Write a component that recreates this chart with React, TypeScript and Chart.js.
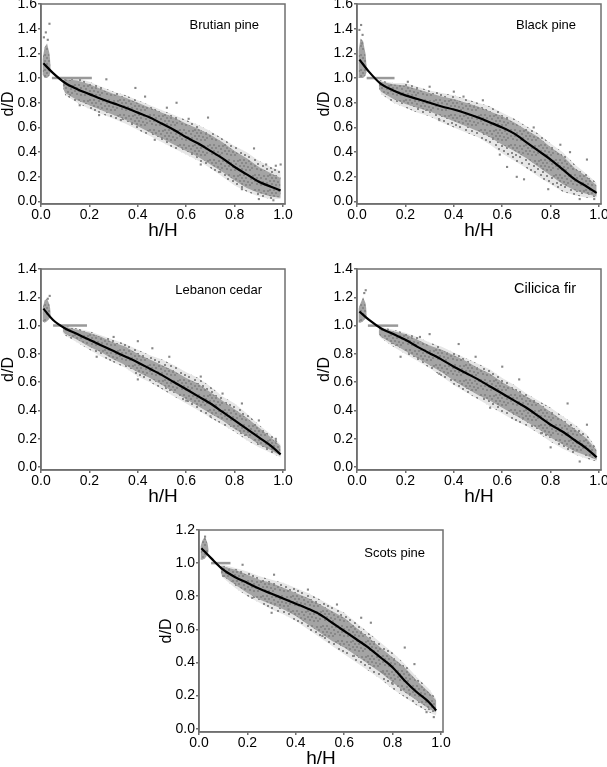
import React, { useEffect, useRef } from "react";
import { Chart, registerables } from "chart.js";
Chart.register(...registerables);

// ---------- tick labels ----------
const X_TICKS = [0, 0.2, 0.4, 0.6, 0.8, 1.0];
const Y_TICKS_16 = [0, 0.2, 0.4, 0.6, 0.8, 1.0, 1.2, 1.4, 1.6];
const Y_TICKS_14 = [0, 0.2, 0.4, 0.6, 0.8, 1.0, 1.2, 1.4];
const Y_TICKS_12 = [0, 0.1, 0.2, 0.3, 0.4, 0.5, 0.6, 0.7, 0.8, 0.9, 1.0, 1.1, 1.2];

// ---------- shared x grids ----------
const CURVE_X = [0.01, 0.05, 0.1, 0.15, 0.2, 0.25, 0.3, 0.35, 0.4, 0.45, 0.5, 0.55, 0.6, 0.65, 0.7, 0.75, 0.8, 0.85, 0.9, 0.95, 0.99];
const SCOTS_CURVE_X = [0.01, 0.05, 0.1, 0.15, 0.2, 0.25, 0.3, 0.35, 0.4, 0.45, 0.5, 0.55, 0.6, 0.65, 0.7, 0.75, 0.8, 0.85, 0.9, 0.95, 0.98];
const BAND_X = [0.09, 0.1, 0.15, 0.2, 0.25, 0.3, 0.35, 0.4, 0.45, 0.5, 0.55, 0.6, 0.65, 0.7, 0.75, 0.8, 0.85, 0.9, 0.95, 0.99];
const SCOTS_BAND_X = [0.09, 0.1, 0.15, 0.2, 0.25, 0.3, 0.35, 0.4, 0.45, 0.5, 0.55, 0.6, 0.65, 0.7, 0.75, 0.8, 0.85, 0.9, 0.95, 0.98];
const SPIKE_X = [0.006, 0.015, 0.025, 0.035, 0.04];

// ---------- Brutian pine ----------
const BRUTIAN_CURVE = [1.12, 1.04, 0.96, 0.91, 0.87, 0.83, 0.795, 0.76, 0.72, 0.68, 0.63, 0.58, 0.52, 0.47, 0.41, 0.35, 0.28, 0.22, 0.16, 0.12, 0.09];
const BRUTIAN_OUTER_LO = [0.93, 0.86, 0.8, 0.75, 0.71, 0.67, 0.63, 0.58, 0.53, 0.48, 0.43, 0.38, 0.33, 0.27, 0.2, 0.13, 0.08, 0.04, 0.02, 0.02];
const BRUTIAN_OUTER_HI = [0.99, 1.0, 1.0, 0.97, 0.93, 0.89, 0.86, 0.82, 0.78, 0.74, 0.7, 0.66, 0.62, 0.57, 0.51, 0.45, 0.4, 0.33, 0.28, 0.25];
const BRUTIAN_INNER_LO = [0.94, 0.88, 0.82, 0.78, 0.74, 0.7, 0.66, 0.61, 0.56, 0.51, 0.46, 0.41, 0.36, 0.3, 0.24, 0.17, 0.11, 0.07, 0.04, 0.03];
const BRUTIAN_INNER_HI = [0.98, 0.99, 0.98, 0.95, 0.91, 0.87, 0.84, 0.8, 0.76, 0.72, 0.68, 0.63, 0.59, 0.54, 0.48, 0.41, 0.35, 0.28, 0.23, 0.19];
const BRUTIAN_SPIKE_LO = [1.03, 1.0, 1.0, 1.02, 1.05];
const BRUTIAN_SPIKE_HI = [1.15, 1.25, 1.28, 1.2, 1.1];
const BRUTIAN_HLINE = [0.045, 0.21];
const BRUTIAN_OUT_X = [0.035, 0.02, 0.012, 0.028, 0.27, 0.39, 0.56, 0.69, 0.61, 0.88, 0.93, 0.97, 0.24, 0.33, 0.47, 0.74, 0.83, 0.99, 0.16, 0.52, 0.66, 0.9, 0.96, 0.43];
const BRUTIAN_OUT_Y = [1.44, 1.37, 1.33, 1.31, 0.99, 0.92, 0.8, 0.68, 0.67, 0.43, 0.3, 0.29, 0.7, 0.66, 0.5, 0.24, 0.1, 0.3, 0.78, 0.76, 0.3, 0.02, 0.01, 0.85];

// ---------- Black pine ----------
const BLACK_CURVE = [1.15, 1.05, 0.95, 0.9, 0.86, 0.83, 0.8, 0.77, 0.745, 0.715, 0.68, 0.64, 0.6, 0.55, 0.48, 0.41, 0.34, 0.26, 0.18, 0.12, 0.07];
const BLACK_OUTER_LO = [0.92, 0.87, 0.8, 0.76, 0.72, 0.69, 0.64, 0.6, 0.56, 0.52, 0.46, 0.39, 0.33, 0.27, 0.2, 0.14, 0.08, 0.05, 0.03, 0.03];
const BLACK_OUTER_HI = [0.99, 0.98, 0.96, 0.96, 0.93, 0.9, 0.88, 0.86, 0.83, 0.8, 0.77, 0.72, 0.67, 0.61, 0.55, 0.47, 0.4, 0.3, 0.22, 0.15];
const BLACK_INNER_LO = [0.93, 0.89, 0.83, 0.79, 0.76, 0.73, 0.69, 0.65, 0.61, 0.57, 0.52, 0.46, 0.41, 0.35, 0.28, 0.21, 0.14, 0.09, 0.06, 0.04];
const BLACK_INNER_HI = [0.98, 0.97, 0.95, 0.94, 0.91, 0.88, 0.85, 0.83, 0.8, 0.77, 0.73, 0.69, 0.64, 0.58, 0.52, 0.44, 0.37, 0.27, 0.2, 0.13];
const BLACK_SPIKE_LO = [1.0, 1.0, 1.0, 1.02, 1.05];
const BLACK_SPIKE_HI = [1.22, 1.32, 1.3, 1.2, 1.1];
const BLACK_HLINE = [0.04, 0.155];
const BLACK_OUT_X = [0.017, 0.01, 0.023, 0.02, 0.44, 0.3, 0.62, 0.66, 0.59, 0.73, 0.95, 0.92, 0.34, 0.52, 0.84, 0.98, 0.21, 0.4, 0.69, 0.79, 0.88];
const BLACK_OUT_Y = [1.43, 1.39, 1.35, 1.28, 0.85, 0.93, 0.28, 0.2, 0.38, 0.6, 0.34, 0.02, 0.66, 0.82, 0.46, 0.02, 0.97, 0.89, 0.18, 0.1, 0.4];

// ---------- Lebanon cedar ----------
const CEDAR_CURVE = [1.12, 1.04, 0.98, 0.94, 0.9, 0.86, 0.82, 0.78, 0.74, 0.695, 0.65, 0.6, 0.55, 0.5, 0.45, 0.39, 0.33, 0.27, 0.21, 0.15, 0.09];
const CEDAR_OUTER_LO = [0.95, 0.93, 0.88, 0.83, 0.78, 0.74, 0.7, 0.64, 0.6, 0.55, 0.5, 0.45, 0.4, 0.35, 0.3, 0.25, 0.19, 0.14, 0.1, 0.07];
const CEDAR_OUTER_HI = [0.99, 1.0, 0.98, 0.96, 0.93, 0.9, 0.87, 0.83, 0.79, 0.76, 0.72, 0.67, 0.63, 0.57, 0.5, 0.45, 0.38, 0.3, 0.23, 0.16];
const CEDAR_INNER_LO = [0.96, 0.94, 0.9, 0.85, 0.81, 0.76, 0.72, 0.67, 0.63, 0.58, 0.53, 0.48, 0.43, 0.38, 0.33, 0.27, 0.22, 0.16, 0.12, 0.08];
const CEDAR_INNER_HI = [0.99, 0.99, 0.97, 0.95, 0.92, 0.88, 0.85, 0.8, 0.76, 0.72, 0.68, 0.63, 0.59, 0.53, 0.47, 0.41, 0.35, 0.28, 0.21, 0.15];
const CEDAR_SPIKE_LO = [1.03, 1.02, 1.03, 1.05, 1.07];
const CEDAR_SPIKE_HI = [1.12, 1.18, 1.19, 1.15, 1.1];
const CEDAR_HLINE = [0.05, 0.19];
const CEDAR_OUT_X = [0.036, 0.028, 0.4, 0.46, 0.66, 0.83, 0.23, 0.4, 0.6, 0.75, 0.3, 0.53, 0.7, 0.9, 0.97];
const CEDAR_OUT_Y = [1.21, 1.19, 0.89, 0.84, 0.64, 0.45, 0.78, 0.62, 0.47, 0.52, 0.92, 0.78, 0.36, 0.33, 0.2];

// ---------- Cilicica fir ----------
const FIR_CURVE = [1.1, 1.04, 0.98, 0.94, 0.9, 0.85, 0.805, 0.76, 0.71, 0.665, 0.62, 0.57, 0.52, 0.47, 0.42, 0.36, 0.3, 0.25, 0.19, 0.13, 0.07];
const FIR_OUTER_LO = [0.93, 0.91, 0.85, 0.8, 0.75, 0.7, 0.64, 0.58, 0.53, 0.48, 0.43, 0.38, 0.33, 0.29, 0.24, 0.18, 0.13, 0.09, 0.06, 0.04];
const FIR_OUTER_HI = [1.0, 0.99, 0.97, 0.95, 0.92, 0.88, 0.85, 0.81, 0.77, 0.73, 0.69, 0.63, 0.58, 0.52, 0.47, 0.42, 0.36, 0.3, 0.23, 0.13];
const FIR_INNER_LO = [0.94, 0.92, 0.87, 0.82, 0.77, 0.72, 0.67, 0.61, 0.56, 0.51, 0.47, 0.42, 0.37, 0.32, 0.27, 0.21, 0.16, 0.11, 0.08, 0.05];
const FIR_INNER_HI = [0.99, 0.98, 0.96, 0.94, 0.9, 0.86, 0.83, 0.79, 0.75, 0.7, 0.66, 0.6, 0.55, 0.5, 0.45, 0.39, 0.33, 0.27, 0.2, 0.12];
const FIR_SPIKE_LO = [1.02, 1.02, 1.03, 1.05, 1.07];
const FIR_SPIKE_HI = [1.12, 1.16, 1.2, 1.16, 1.1];
const FIR_HLINE = [0.045, 0.17];
const FIR_OUT_X = [0.036, 0.03, 0.3, 0.42, 0.6, 0.67, 0.87, 0.18, 0.34, 0.55, 0.76, 0.95, 0.26, 0.49, 0.8, 0.92];
const FIR_OUT_Y = [1.25, 1.23, 0.94, 0.87, 0.71, 0.62, 0.45, 0.78, 0.66, 0.42, 0.24, 0.3, 0.92, 0.78, 0.14, 0.04];

// ---------- Scots pine ----------
const SCOTS_CURVE = [1.09, 1.03, 0.96, 0.915, 0.88, 0.845, 0.815, 0.785, 0.755, 0.725, 0.69, 0.64, 0.59, 0.54, 0.49, 0.43, 0.37, 0.29, 0.22, 0.16, 0.11];
const SCOTS_OUTER_LO = [0.93, 0.91, 0.85, 0.8, 0.76, 0.72, 0.69, 0.65, 0.6, 0.55, 0.5, 0.45, 0.4, 0.35, 0.3, 0.24, 0.19, 0.14, 0.1, 0.08];
const SCOTS_OUTER_HI = [0.99, 0.99, 0.97, 0.95, 0.92, 0.9, 0.88, 0.85, 0.82, 0.78, 0.74, 0.7, 0.64, 0.58, 0.52, 0.46, 0.39, 0.31, 0.24, 0.18];
const SCOTS_INNER_LO = [0.94, 0.92, 0.87, 0.82, 0.78, 0.75, 0.72, 0.68, 0.63, 0.58, 0.53, 0.49, 0.44, 0.39, 0.34, 0.28, 0.22, 0.17, 0.12, 0.1];
const SCOTS_INNER_HI = [0.98, 0.98, 0.96, 0.93, 0.9, 0.88, 0.85, 0.82, 0.79, 0.75, 0.71, 0.67, 0.61, 0.55, 0.49, 0.43, 0.37, 0.29, 0.22, 0.17];
const SCOTS_SPIKE_LO = [1.02, 1.02, 1.03, 1.05, 1.07];
const SCOTS_SPIKE_HI = [1.1, 1.14, 1.16, 1.12, 1.08];
const SCOTS_HLINE = [0.05, 0.13];
const SCOTS_OUT_X = [0.025, 0.18, 0.31, 0.67, 0.85, 0.89, 0.3, 0.51, 0.76, 0.94, 0.57, 0.45, 0.71, 0.22, 0.37, 0.64, 0.8, 0.97];
const SCOTS_OUT_Y = [1.16, 0.99, 0.93, 0.67, 0.49, 0.39, 0.7, 0.56, 0.34, 0.1, 0.75, 0.84, 0.64, 0.79, 0.72, 0.44, 0.27, 0.07];

// ---------- layout / style ----------
const YW = 42; // y-axis box width
const XH = 38; // x-axis box height
const PT = 10; // top padding
const PR = 12; // right padding
const FONT = "'Liberation Sans', Arial, Helvetica, sans-serif";
const AXIS_COLOR = "#6f6f6f";
const DOT = "#888888";

type Panel = {
  name: string;
  area: number[]; // left, top, right, bottom (page px)
  yMax: number;
  yTicks: number[];
  curveX: number[];
  curveY: number[];
  bandX: number[];
  outerLo: number[];
  outerHi: number[];
  innerLo: number[];
  innerHi: number[];
  spikeLo: number[];
  spikeHi: number[];
  hline: number[];
  outX: number[];
  outY: number[];
  labelDx: number;
  labelDy: number;
  labelSize: number;
};

const PANELS: Panel[] = [
  { name: "Brutian pine", area: [41, 4, 285, 204], yMax: 1.6, yTicks: Y_TICKS_16, curveX: CURVE_X, curveY: BRUTIAN_CURVE, bandX: BAND_X, outerLo: BRUTIAN_OUTER_LO, outerHi: BRUTIAN_OUTER_HI, innerLo: BRUTIAN_INNER_LO, innerHi: BRUTIAN_INNER_HI, spikeLo: BRUTIAN_SPIKE_LO, spikeHi: BRUTIAN_SPIKE_HI, hline: BRUTIAN_HLINE, outX: BRUTIAN_OUT_X, outY: BRUTIAN_OUT_Y, labelDx: 26, labelDy: 21, labelSize: 13 },
  { name: "Black pine", area: [357, 4, 601, 204], yMax: 1.6, yTicks: Y_TICKS_16, curveX: CURVE_X, curveY: BLACK_CURVE, bandX: BAND_X, outerLo: BLACK_OUTER_LO, outerHi: BLACK_OUTER_HI, innerLo: BLACK_INNER_LO, innerHi: BLACK_INNER_HI, spikeLo: BLACK_SPIKE_LO, spikeHi: BLACK_SPIKE_HI, hline: BLACK_HLINE, outX: BLACK_OUT_X, outY: BLACK_OUT_Y, labelDx: 25, labelDy: 21, labelSize: 13 },
  { name: "Lebanon cedar", area: [41, 269, 285, 470], yMax: 1.4, yTicks: Y_TICKS_14, curveX: CURVE_X, curveY: CEDAR_CURVE, bandX: BAND_X, outerLo: CEDAR_OUTER_LO, outerHi: CEDAR_OUTER_HI, innerLo: CEDAR_INNER_LO, innerHi: CEDAR_INNER_HI, spikeLo: CEDAR_SPIKE_LO, spikeHi: CEDAR_SPIKE_HI, hline: CEDAR_HLINE, outX: CEDAR_OUT_X, outY: CEDAR_OUT_Y, labelDx: 23, labelDy: 21, labelSize: 13 },
  { name: "Cilicica fir", area: [357, 269, 601, 470], yMax: 1.4, yTicks: Y_TICKS_14, curveX: CURVE_X, curveY: FIR_CURVE, bandX: BAND_X, outerLo: FIR_OUTER_LO, outerHi: FIR_OUTER_HI, innerLo: FIR_INNER_LO, innerHi: FIR_INNER_HI, spikeLo: FIR_SPIKE_LO, spikeHi: FIR_SPIKE_HI, hline: FIR_HLINE, outX: FIR_OUT_X, outY: FIR_OUT_Y, labelDx: 25, labelDy: 20, labelSize: 14.5 },
  { name: "Scots pine", area: [199, 530, 443, 732], yMax: 1.2, yTicks: Y_TICKS_12, curveX: SCOTS_CURVE_X, curveY: SCOTS_CURVE, bandX: SCOTS_BAND_X, outerLo: SCOTS_OUTER_LO, outerHi: SCOTS_OUTER_HI, innerLo: SCOTS_INNER_LO, innerHi: SCOTS_INNER_HI, spikeLo: SCOTS_SPIKE_LO, spikeHi: SCOTS_SPIKE_HI, hline: SCOTS_HLINE, outX: SCOTS_OUT_X, outY: SCOTS_OUT_Y, labelDx: 18, labelDy: 23, labelSize: 13 },
];

const pts = (xs: number[], ys: number[]) => xs.map((x, i) => ({ x, y: ys[i] }));
const hidden = { borderColor: "rgba(0,0,0,0)", borderWidth: 0, pointRadius: 0 };

// speckled texture fills (styling only: fixed irregular tiles of small grey dots)
function speckle(size: number, base: string | null, dots: number[][]): CanvasPattern | string {
  const c = document.createElement("canvas");
  c.width = size;
  c.height = size;
  const g = c.getContext("2d");
  if (!g) return base || DOT;
  if (base) {
    g.fillStyle = base;
    g.fillRect(0, 0, size, size);
  }
  g.fillStyle = DOT;
  dots.forEach(([x, y]) => g.fillRect(x, y, 2, 2));
  return g.createPattern(c, "repeat") || DOT;
}

const INNER_TILE = [[0, 0], [4, 0], [9, 1], [2, 3], [6, 3], [11, 4], [0, 6], [4, 6], [8, 7], [2, 9], [6, 10], [10, 10], [12, 8], [13, 1]];
const OUTER_TILE = [[0, 0], [6, 1], [11, 3], [3, 4], [8, 6], [1, 8], [12, 9], [5, 10], [9, 12], [2, 12]];

function PanelChart({ p }: { p: Panel }) {
  const ref = useRef<HTMLCanvasElement>(null);
  const [aL, aT, aR, aB] = p.area;
  const W = aR - aL + YW + PR;
  const H = aB - aT + PT + XH;

  useEffect(() => {
    const innerFill = speckle(15, "#a4a4a4", INNER_TILE);
    const outerFill = speckle(15, "#e6e6e6", OUTER_TILE);

    const framePlugin = {
      id: "frameAndLabel",
      afterDraw(chart: any) {
        const { ctx, chartArea: a } = chart;
        ctx.save();
        ctx.strokeStyle = AXIS_COLOR;
        ctx.lineWidth = 1.5;
        ctx.strokeRect(a.left, a.top, a.right - a.left, a.bottom - a.top);
        ctx.fillStyle = "#000";
        ctx.font = `${p.labelSize}px ${FONT}`;
        ctx.textAlign = "right";
        ctx.textBaseline = "middle";
        ctx.fillText(p.name, a.right - p.labelDx, a.top + p.labelDy);
        ctx.restore();
      },
    };

    const chart = new Chart(ref.current as HTMLCanvasElement, {
      type: "line",
      data: {
        datasets: [
          { data: pts(p.curveX, p.curveY), borderColor: "#000", borderWidth: 2.2, pointRadius: 0, cubicInterpolationMode: "monotone", fill: false },
          { data: pts(p.hline, [1, 1]), borderColor: "#999999", borderWidth: 2.5, pointRadius: 0, fill: false },
          { data: pts(p.outX, p.outY), showLine: false, pointStyle: "rect", pointRadius: 1.5, pointBackgroundColor: DOT, pointBorderWidth: 0, fill: false },
          { data: pts(SPIKE_X, p.spikeLo), ...hidden, fill: false },
          { data: pts(SPIKE_X, p.spikeHi), ...hidden, fill: "-1", backgroundColor: innerFill },
          { data: pts(p.bandX, p.innerLo), ...hidden, fill: false },
          { data: pts(p.bandX, p.innerHi), ...hidden, fill: "-1", backgroundColor: innerFill },
          { data: pts(p.bandX, p.outerLo), ...hidden, fill: false },
          { data: pts(p.bandX, p.outerHi), ...hidden, fill: "-1", backgroundColor: outerFill },
        ] as any,
      },
      options: {
        animation: false,
        responsive: false,
        events: [],
        layout: { padding: { top: PT, right: PR, left: 0, bottom: 0 } },
        plugins: { legend: { display: false }, tooltip: { enabled: false } },
        scales: {
          x: {
            type: "linear",
            min: 0,
            max: 1.008,
            afterFit: (s: any) => { s.height = XH; },
            afterBuildTicks: (s: any) => { s.ticks = X_TICKS.map((v) => ({ value: v })); },
            ticks: { color: "#000", padding: 0, maxRotation: 0, font: { family: FONT, size: 14 }, callback: (v: any) => Number(v).toFixed(1) },
            grid: { drawOnChartArea: false, drawTicks: true, tickLength: 3, color: AXIS_COLOR, lineWidth: 1.5 },
            border: { display: true, color: AXIS_COLOR, width: 1.5 },
            title: { display: true, text: "h/H", color: "#000", padding: 0, font: { family: FONT, size: 19 } },
          },
          y: {
            type: "linear",
            min: -0.02,
            max: p.yMax,
            afterFit: (s: any) => { s.width = YW; },
            afterBuildTicks: (s: any) => { s.ticks = p.yTicks.map((v) => ({ value: v })); },
            ticks: { color: "#000", padding: 1, font: { family: FONT, size: 14 }, callback: (v: any) => Number(v).toFixed(1) },
            grid: { drawOnChartArea: false, drawTicks: true, tickLength: 3, color: AXIS_COLOR, lineWidth: 1.5 },
            border: { display: true, color: AXIS_COLOR, width: 1.5 },
            title: { display: true, text: "d/D", color: "#000", padding: 0, font: { family: FONT, size: 16 } },
          },
        },
      } as any,
      plugins: [framePlugin],
    });
    return () => chart.destroy();
  }, []);

  return (
    <canvas
      ref={ref}
      width={W}
      height={H}
      style={{ position: "absolute", left: aL - YW, top: aT - PT, width: W, height: H }}
    />
  );
}

export default function App() {
  return (
    <div style={{ position: "absolute", left: 0, top: 0, width: 607, height: 767, overflow: "hidden", background: "#fff" }}>
      {PANELS.map((p) => (
        <PanelChart key={p.name} p={p} />
      ))}
    </div>
  );
}
